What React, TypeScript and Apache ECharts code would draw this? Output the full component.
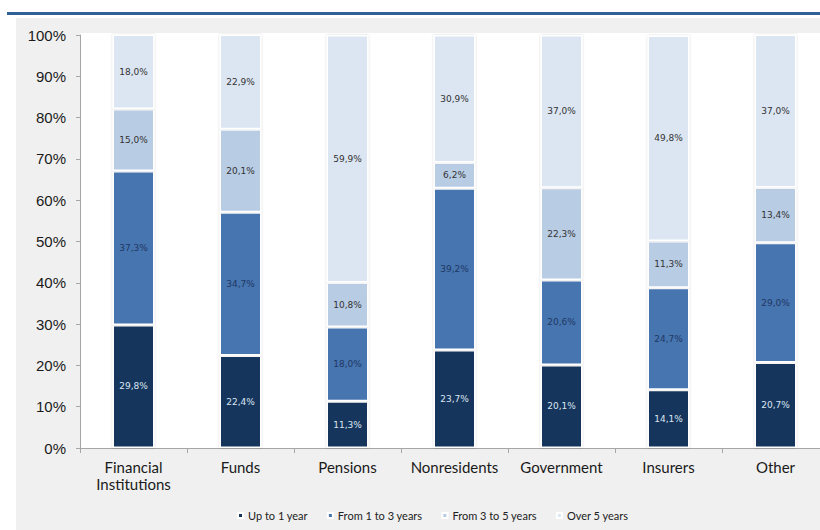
import React, { useEffect, useRef } from "react";
import * as echarts from "echarts";

const categories = ["Financial\nInstitutions", "Funds", "Pensions", "Nonresidents", "Government", "Insurers", "Other"];
const seriesNames = ["Up to 1 year", "From 1 to 3 years", "From 3 to 5 years", "Over 5 years"];
const upTo1 = [29.8, 22.4, 11.3, 23.7, 20.1, 14.1, 20.7];
const from1to3 = [37.3, 34.7, 18.0, 39.2, 20.6, 24.7, 29.0];
const from3to5 = [15.0, 20.1, 10.8, 6.2, 22.3, 11.3, 13.4];
const over5 = [18.0, 22.9, 59.9, 30.9, 37.0, 49.8, 37.0];
const yTicks = [0, 10, 20, 30, 40, 50, 60, 70, 80, 90, 100];

const colors = ["#17365d", "#4675b0", "#b8cce4", "#dce6f2"];
const labelColors = ["#dbe5f1", "#1f3864", "#333333", "#333333"];

export default function App() {
  const ref = useRef<HTMLDivElement>(null);
  useEffect(() => {
    const chart = echarts.init(ref.current!, null, { renderer: "svg" });
    const data = [upTo1, from1to3, from3to5, over5];
    const fmt = (v: number) => v.toFixed(1).replace(".", ",") + "%";
    chart.setOption({
      animation: false,
      backgroundColor: "#ffffff",
      graphic: [
        { type: "rect", shape: { x: 7, y: 12, width: 840, height: 3 }, style: { fill: "#2f6096" }, z: -10 },
        { type: "rect", shape: { x: 16, y: 18, width: 830, height: 520 }, style: { fill: "#f0f0f0" }, z: -10 },
        { type: "rect", shape: { x: 80, y: 33, width: 760, height: 415 }, style: { fill: "#ffffff" }, z: -9 },
      ],
      grid: { left: 80, top: 35, right: 11, bottom: 82 },
      legend: {
        bottom: 4,
        left: 232,
        itemWidth: 5,
        itemHeight: 5,
        itemGap: 19,
        icon: "rect",
        textStyle: { fontFamily: "Lato", fontSize: 11, color: "#222" },
        data: seriesNames,
      },
      xAxis: {
        type: "category",
        data: categories,
        axisLine: { lineStyle: { color: "#a6a6a6" } },
        axisTick: { show: true, length: 5, lineStyle: { color: "#a6a6a6" } },
        axisLabel: { interval: 0, fontFamily: "Lato", fontSize: 15, color: "#1a1a1a", margin: 10, lineHeight: 17 },
      },
      yAxis: {
        type: "value",
        min: 0,
        max: 100,
        interval: 10,
        axisLine: { show: true, lineStyle: { color: "#a6a6a6" } },
        axisTick: { show: true, length: 4, lineStyle: { color: "#a6a6a6" } },
        splitLine: { show: false },
        axisLabel: {
          fontFamily: "Liberation Sans",
          fontSize: 15,
          color: "#1a1a1a",
          margin: 14,
          formatter: (v: number) => (yTicks.includes(v) ? v + "%" : ""),
        },
      },
      series: seriesNames.map((name, i) => ({
        name,
        type: "bar",
        stack: "total",
        barWidth: 42,
        data: data[i],
        itemStyle: {
          color: colors[i],
          borderColor: "#ffffff",
          borderWidth: 1.5,
          shadowColor: "rgba(0,0,0,0.18)",
          shadowBlur: 2,
        },
        label: {
          show: true,
          position: "inside",
          fontFamily: "DejaVu Sans",
          fontSize: 9,
          color: labelColors[i],
          formatter: (p: any) => fmt(p.value),
        },
      })),
      color: colors,
    });
    return () => chart.dispose();
  }, []);
  return (
    <div style={{ position: "fixed", left: 0, top: 0, width: 820, height: 530, overflow: "hidden" }}>
      <div ref={ref} style={{ width: 840, height: 530 }} />
    </div>
  );
}
